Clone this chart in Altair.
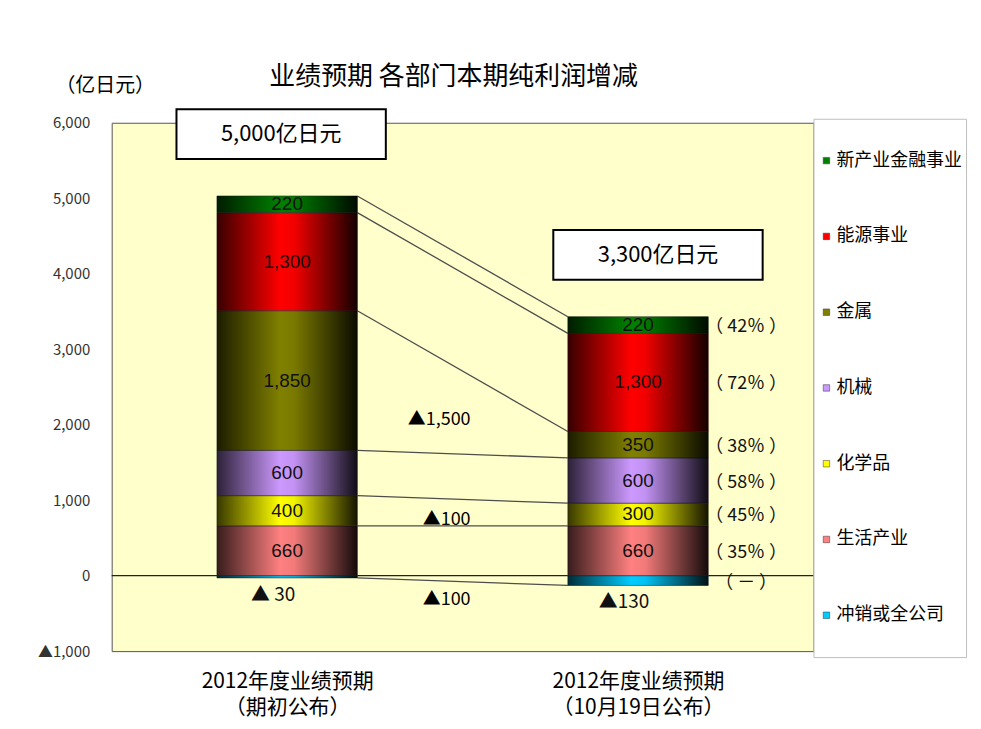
import json
import altair as alt
import pandas as pd

# ---------------- data ----------------
period_line1 = ["2012年度业绩预期", "2012年度业绩预期"]
period_line2 = ["（期初公布）", "（10月19日公布）"]
# stack order, bottom -> top
series = ["冲销或全公司", "生活产业", "化学品", "机械", "金属", "能源事业", "新产业金融事业"]
values_initial = [-30, 660, 400, 600, 1850, 1300, 220]
values_oct = [-130, 660, 300, 600, 350, 1300, 220]
rates_oct = ["（ － ）", "（ 35％ ）", "（ 45％ ）", "（ 58％ ）", "（ 38％ ）", "（ 72％ ）", "（ 42％ ）"]
series_colors = ["#00CCFF", "#FF8080", "#FFFF00", "#CC99FF", "#808000", "#FF0000", "#008000"]
y_ticks = [-1000, 0, 1000, 2000, 3000, 4000, 5000, 6000]
unit_label = "（亿日元）"
title_text = "业绩预期 各部门本期纯利润增减"
total_suffix = "亿日元"

# ---------------- derived tables ----------------
HALF = 0.2  # half bar width in x units (style)
all_vals = [values_initial, values_oct]
rows = []
for p, vals in enumerate(all_vals):
    pos = neg = 0
    for s, v in zip(series, vals):
        if v >= 0:
            y0, y1 = pos, pos + v
            pos = y1
        else:
            y0, y1 = neg, neg + v
            neg = y1
        rows.append({
            "p": p, "xl": p - HALF, "xr": p + HALF, "series": s, "value": v,
            "y0": y0, "y1": y1, "mid": (y0 + y1) / 2,
            "label": f"{v:,}" if v >= 0 else "▲" + f"{-v:>3}",
            "rate": rates_oct[series.index(s)] if p == 1 else "",
        })
seg = pd.DataFrame(rows)
left = seg[seg.p == 0].set_index("series")
right = seg[seg.p == 1].set_index("series")

conn = pd.DataFrame({
    "x": [0 + HALF] * len(series),
    "x2": [1 - HALF] * len(series),
    "y": [left.loc[s, "y1"] for s in series],
    "y2": [right.loc[s, "y1"] for s in series],
})

diff_rows = []
for s in series:
    d = right.loc[s, "value"] - left.loc[s, "value"]
    if d != 0:
        isneg = left.loc[s, "value"] < 0
        y = ((left.loc[s, "y1"] + right.loc[s, "y1"]) / 2 if isneg
             else (left.loc[s, "mid"] + right.loc[s, "mid"]) / 2)
        diff_rows.append({"x": 0.5, "y": y, "neg": bool(isneg),
                          "label": ("▲" if d < 0 else "") + f"{abs(d):,}"})
diff = pd.DataFrame(diff_rows)

tot = pd.DataFrame({
    "p": [0, 1],
    "top": [sum(v for v in vals if v > 0) for vals in all_vals],
    "label": [f"{sum(vals):,}{total_suffix}" for vals in all_vals],
})

legend_order = series[::-1]
legend_colors = series_colors[::-1]

CJK = "Noto Sans CJK SC"

# ---------------- scales / axes ----------------
XS = alt.Scale(domain=[-0.5, 1.5], nice=False, zero=False)
YS = alt.Scale(domain=[-1000, 6000], nice=False, zero=False)

x_label_expr = ("datum.value == 0 ? "
                + json.dumps([period_line1[0], period_line2[0]], ensure_ascii=False)
                + " : "
                + json.dumps([period_line1[1], period_line2[1]], ensure_ascii=False))
XAXIS = alt.Axis(values=[0, 1], labelExpr=x_label_expr, title=None, ticks=False,
                 domain=False, grid=False, labelFontSize=21, labelLineHeight=27,
                 labelPadding=19, labelColor="black", labelFlush=False,
                 labelFont=CJK, labelOverlap=False)
YAXIS = alt.Axis(values=y_ticks,
                 labelExpr="datum.value < 0 ? '▲' + format(-datum.value, ',') : format(datum.value, ',')",
                 title=unit_label, titleAngle=0, titleX=-7, titleY=-37, titleAlign="center",
                 titleBaseline="middle", titleFontSize=20, titleFontWeight="normal",
                 titleFont=CJK, titleColor="black",
                 labelFontSize=15, labelFont=CJK, labelColor="#333333",
                 labelPadding=22, ticks=False, domain=False, grid=False, labelFlush=False)


def xq(field):
    return alt.X(field, type="quantitative", scale=XS, axis=XAXIS)


def yq(field):
    return alt.Y(field, type="quantitative", scale=YS, axis=YAXIS)


# ---------------- layers ----------------
zero = alt.Chart(pd.DataFrame({"y": [0]})).mark_rule(color="#222222", strokeWidth=1.2).encode(y=yq("y"))

connectors = alt.Chart(conn).mark_rule(color="#4d4d4d", strokeWidth=1.3).encode(
    x=xq("x"), x2="x2", y=yq("y"), y2="y2")

bars = alt.Chart(seg).mark_rect(stroke="#333333", strokeWidth=0.6).encode(
    x=xq("xl"), x2="xr", y=yq("y0"), y2="y1",
    color=alt.Color("series:N", scale=alt.Scale(domain=legend_order, range=legend_colors),
                    legend=alt.Legend(orient="none", legendX=704, legendY=-4, title=None,
                                      symbolType="square", symbolSize=42, symbolStrokeWidth=0.5,
                                      symbolStrokeColor="#333333",
                                      labelFontSize=18, labelFont=CJK,
                                      labelColor="black", clipHeight=76, rowPadding=0,
                                      padding=4, labelOffset=1, fillColor="white",
                                      strokeColor="#bfbfbf", labelLimit=300)),
)

shade = alt.Chart(seg).mark_rect(
    fill=alt.LinearGradient(gradient="linear", x1=0, x2=1, y1=0, y2=0, stops=[
        alt.GradientStop(offset=0, color="rgba(0,0,0,0.78)"),
        alt.GradientStop(offset=0.45, color="rgba(0,0,0,0)"),
        alt.GradientStop(offset=0.55, color="rgba(0,0,0,0.05)"),
        alt.GradientStop(offset=1, color="rgba(0,0,0,0.92)"),
    ])
).encode(x=xq("xl"), x2="xr", y=yq("y0"), y2="y1")

val_text = alt.Chart(seg).transform_filter("datum.value > 0").mark_text(
    fontSize=19, font="Liberation Sans", color="#111111", baseline="middle"
).encode(x=xq("p"), y=yq("mid"), text="label:N")

neg_text = alt.Chart(seg).transform_filter("datum.value < 0").mark_text(
    fontSize=19, font=CJK, color="#111111", baseline="middle", dx=-14, dy=17
).encode(x=xq("p"), y=yq("y1"), text="label:N")

rate_text = alt.Chart(seg).transform_filter("datum.p == 1").mark_text(
    fontSize=18, font=CJK, color="#111111", baseline="middle", dx=38, dy=2
).encode(x=xq("xr"), y=yq("mid"), text="rate:N")

diff_pos = alt.Chart(diff).transform_filter("!datum.neg").mark_text(
    fontSize=18, font=CJK, color="black", baseline="middle", align="right", dx=8, dy=7
).encode(x=xq("x"), y=yq("y"), text="label:N")

diff_neg = alt.Chart(diff).transform_filter("datum.neg").mark_text(
    fontSize=18, font=CJK, color="black", baseline="middle", align="right", dx=8, dy=18
).encode(x=xq("x"), y=yq("y"), text="label:N")

box_dx = [-6, 20]
box_layers = []
for i in range(2):
    sub = tot[tot.p == i]
    box_layers.append(alt.Chart(sub).mark_rect(
        width=210, height=50, fill="white", stroke="black", strokeWidth=2,
        xOffset=box_dx[i], yOffset=-62).encode(x=xq("p"), y=yq("top")))
    box_layers.append(alt.Chart(sub).mark_text(
        fontSize=22, font=CJK, color="black", baseline="middle",
        dx=box_dx[i], dy=-62).encode(x=xq("p"), y=yq("top"), text="label:N"))

chart = alt.layer(
    zero, connectors, bars, shade, val_text, neg_text, rate_text, diff_pos, diff_neg, *box_layers
).properties(
    width=704, height=530,
    padding={"left": 104, "top": 114, "right": 160, "bottom": 72},
    autosize="none",
    title=alt.TitleParams(text=title_text, fontSize=26, fontWeight="normal",
                          font=CJK, color="black", anchor="middle",
                          frame="group", baseline="bottom", offset=0, dx=-9, dy=40),
).configure(
    background="white", font=CJK
).configure_view(
    fill="#FFFFCC", stroke="#555555", strokeWidth=1
)

chart.save("out.html", embed_options={"renderer": "svg", "actions": False})
